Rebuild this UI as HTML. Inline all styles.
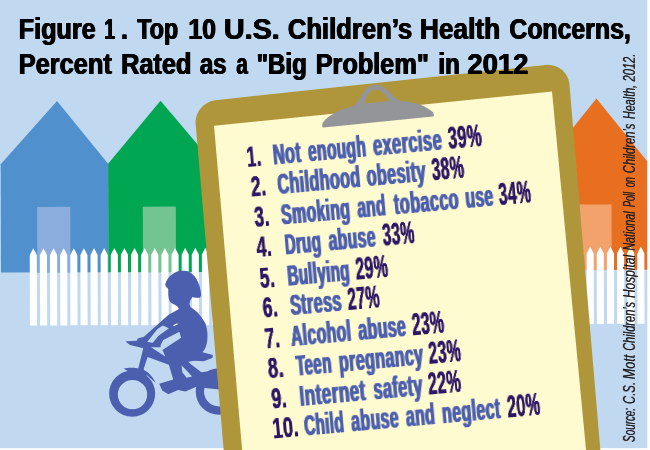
<!DOCTYPE html>
<html lang="en"><head><meta charset="utf-8"><title>Figure 1. Top 10 U.S. Children's Health Concerns</title>
<style>html,body{margin:0;padding:0;background:#fff;}svg{display:block;}text{font-family:"Liberation Sans",sans-serif;}</style></head><body>
<svg width="650" height="450" viewBox="0 0 650 450">
<defs><filter id="fb" x="-5%" y="-30%" width="110%" height="160%"><feOffset in="SourceGraphic" dx="0.5" result="a"/><feOffset in="SourceGraphic" dx="-0.5" result="b"/><feMerge><feMergeNode in="a"/><feMergeNode in="b"/><feMergeNode in="SourceGraphic"/></feMerge></filter><filter id="fbn" x="-5%" y="-30%" width="110%" height="160%"><feOffset in="SourceGraphic" dx="0.35" result="a"/><feOffset in="SourceGraphic" dx="-0.35" result="b"/><feMerge><feMergeNode in="a"/><feMergeNode in="b"/><feMergeNode in="SourceGraphic"/></feMerge></filter><filter id="fb2" x="-5%" y="-30%" width="110%" height="160%"><feOffset in="SourceGraphic" dx="0.5" result="a"/><feOffset in="SourceGraphic" dx="-0.5" result="b"/><feMerge><feMergeNode in="a"/><feMergeNode in="b"/><feMergeNode in="SourceGraphic"/></feMerge></filter><filter id="fb3" x="-2%" y="-30%" width="104%" height="160%"><feMerge><feMergeNode in="SourceGraphic"/><feMergeNode in="SourceGraphic"/></feMerge></filter></defs>
<rect width="650" height="450" fill="#fff"/>
<rect x="0" y="0" width="647.3" height="448.2" fill="#c0d9f1"/>
<clipPath id="cr"><rect x="0" y="0" width="647.3" height="448"/></clipPath>
<g clip-path="url(#cr)"><g transform="rotate(-0.16 60 272)">
<polygon points="1.0,272.4 1.0,164.0 57.5,101.0 108.4,164.0 108.4,272.4" fill="#4f90cd"/>
<rect x="37.3" y="206.9" width="33.2" height="65.5" fill="#8badde"/>
<polygon points="108.4,272.4 108.4,164.0 161,101.0 214,164.0 214,272.4" fill="#00a651"/>
<rect x="143" y="206.9" width="33.0" height="65.5" fill="#72c591"/>
<polygon points="546.0,271.5 546.0,163.1 596.9,100.1 647.7,163.1 647.7,271.5" fill="#e96f20"/>
<rect x="579.3" y="206.0" width="32.4" height="65.5" fill="#f4a26b"/>
<path d="M29.80,325.4V255L33.35,248.2L36.90,255V325.4ZM39.92,325.4V255L43.47,248.2L47.02,255V325.4ZM50.05,325.4V255L53.60,248.2L57.15,255V325.4ZM60.17,325.4V255L63.72,248.2L67.27,255V325.4ZM70.30,325.4V255L73.85,248.2L77.40,255V325.4ZM80.42,325.4V255L83.97,248.2L87.52,255V325.4ZM90.55,325.4V255L94.10,248.2L97.65,255V325.4ZM100.67,325.4V255L104.22,248.2L107.77,255V325.4ZM110.80,325.4V255L114.35,248.2L117.90,255V325.4ZM120.92,325.4V255L124.47,248.2L128.03,255V325.4ZM131.05,325.4V255L134.60,248.2L138.15,255V325.4ZM141.18,325.4V255L144.73,248.2L148.28,255V325.4ZM151.30,325.4V255L154.85,248.2L158.40,255V325.4ZM161.43,325.4V255L164.98,248.2L168.53,255V325.4ZM171.55,325.4V255L175.10,248.2L178.65,255V325.4ZM181.68,325.4V255L185.23,248.2L188.78,255V325.4ZM191.80,325.4V255L195.35,248.2L198.90,255V325.4ZM201.93,325.4V255L205.48,248.2L209.03,255V325.4ZM212.05,325.4V255L215.60,248.2L219.15,255V325.4ZM222.18,325.4V255L225.73,248.2L229.28,255V325.4ZM232.30,325.4V255L235.85,248.2L239.40,255V325.4ZM242.43,325.4V255L245.98,248.2L249.53,255V325.4ZM252.55,325.4V255L256.10,248.2L259.65,255V325.4ZM262.68,325.4V255L266.23,248.2L269.78,255V325.4ZM272.80,325.4V255L276.35,248.2L279.90,255V325.4ZM282.93,325.4V255L286.48,248.2L290.03,255V325.4ZM293.05,325.4V255L296.60,248.2L300.15,255V325.4ZM303.18,325.4V255L306.73,248.2L310.28,255V325.4ZM313.30,325.4V255L316.85,248.2L320.40,255V325.4ZM323.43,325.4V255L326.98,248.2L330.53,255V325.4ZM333.55,325.4V255L337.10,248.2L340.65,255V325.4ZM343.68,325.4V255L347.23,248.2L350.78,255V325.4ZM353.80,325.4V255L357.35,248.2L360.90,255V325.4ZM363.93,325.4V255L367.48,248.2L371.03,255V325.4ZM374.05,325.4V255L377.60,248.2L381.15,255V325.4ZM384.18,325.4V255L387.73,248.2L391.28,255V325.4ZM394.30,325.4V255L397.85,248.2L401.40,255V325.4ZM404.43,325.4V255L407.98,248.2L411.53,255V325.4ZM414.55,325.4V255L418.10,248.2L421.65,255V325.4ZM424.68,325.4V255L428.23,248.2L431.78,255V325.4ZM434.80,325.4V255L438.35,248.2L441.90,255V325.4ZM444.93,325.4V255L448.48,248.2L452.03,255V325.4ZM455.05,325.4V255L458.60,248.2L462.15,255V325.4ZM465.18,325.4V255L468.73,248.2L472.28,255V325.4ZM475.30,325.4V255L478.85,248.2L482.40,255V325.4ZM485.43,325.4V255L488.98,248.2L492.53,255V325.4ZM495.55,325.4V255L499.10,248.2L502.65,255V325.4ZM505.68,325.4V255L509.23,248.2L512.77,255V325.4ZM515.80,325.4V255L519.35,248.2L522.90,255V325.4ZM525.92,325.4V255L529.47,248.2L533.02,255V325.4ZM536.05,325.4V255L539.60,248.2L543.15,255V325.4ZM546.17,325.4V255L549.72,248.2L553.27,255V325.4ZM556.30,325.4V255L559.85,248.2L563.40,255V325.4ZM566.42,325.4V255L569.97,248.2L573.52,255V325.4ZM576.55,325.4V255L580.10,248.2L583.65,255V325.4ZM586.67,325.4V255L590.22,248.2L593.77,255V325.4ZM596.80,325.4V255L600.35,248.2L603.90,255V325.4ZM606.92,325.4V255L610.47,248.2L614.02,255V325.4ZM617.05,325.4V255L620.60,248.2L624.15,255V325.4ZM627.17,325.4V255L630.72,248.2L634.27,255V325.4ZM637.30,325.4V255L640.85,248.2L644.40,255V325.4Z" fill="#fff"/>
</g></g>
<g fill="#4b5fae" stroke="none">
<path fill-rule="evenodd" d="M109.1,393.6a23.05,23.05 0 1,0 46.1,0a23.05,23.05 0 1,0 -46.1,0Z M117.8,394.6a14.7,14.7 0 1,0 29.4,0a14.7,14.7 0 1,0 -29.4,0Z"/>
<path fill-rule="evenodd" d="M195.7,391.5a23.3,23.3 0 1,0 46.6,0a23.3,23.3 0 1,0 -46.6,0Z M204,391.5a15,15 0 1,0 30,0a15,15 0 1,0 -30,0Z"/>
<path d="M123.7,368.7 C128,367.3 136,367.2 142.5,369.3 C148,371.6 152.5,376.3 155.7,382.8 L151.5,379.5 L140,374 L128.5,371.5 Z"/>
<path d="M146.6,375.3 L152.4,380.6" stroke="#c0d9f1" stroke-width="0.9" fill="none"/>
<path d="M165.2,284.8 C165.6,283 166,282 166.7,280.6 C167.8,278.6 169,277 170.6,275.6 C172.2,274.2 174,272.8 176.1,271.9 C178.3,271 180.5,270.8 182.8,270.8 C185,270.8 187.4,271 189.4,271.9 C191.4,273 193,274.4 194.4,276.1 C196,278 197.3,280.3 198.3,282.8 C199.4,285.4 200.2,288 200.6,290.6 C200.9,292.3 201.2,294 201.1,295.6 L200,297.8 L196.1,297.8 L192.2,297.2 L190.3,300.6 L189.4,303.9 L190.6,307.2 C196,310 201.2,315.7 205.6,323.7 C207.6,330 207.8,336 207.3,340.2 C206.8,344 206,347 204.5,349.6 L202.5,352.3 L213,355 L212.3,358.1 L203.7,361.2 L194.4,360.8 L188.5,361.8 L190.3,363.7 L201.3,372.2 L216.6,370.4 L224,370 L224,390 L195.8,386.9 L185.4,391.5 L178.1,389.9 L168.3,394.2 L162.2,390.5 L159.2,383.8 L173.2,379.5 L168.9,364.8 L147.6,357 L143.9,368.3 L143.5,371.8 L137.3,370.8 L138.3,368.3 L143.3,348.3 L130,344.9 L126.1,342 L126.1,341.2 L136.7,340.8 L137.8,338.4 L143.9,336.7 L158.5,323.7 L167.4,315.7 C170,313.3 175,311.3 178.9,308.9 L177.8,306.7 L174.4,304.4 C172.5,303.6 171.2,303 170.6,302.2 C169.6,301 169.2,300 168.9,298.9 L168.3,295 L168.3,288.9 L166.1,286.7 Z"/>
</g>
<g fill="#c0d9f1">
<polygon points="147.2,342 157.2,329.2 162.8,325.6 168.9,328.3 158.3,336.1 152.8,342.8"/>
<polygon points="163.3,340 179.4,331.7 181.1,337.8 162.4,349.9 165.3,356.5 151,347.2 160.4,347.2 160.9,344.4"/>
<polygon points="181.5,365.5 182.4,372.2 186.6,377.7 192.1,376.5 185.4,369.2"/>
</g>
<polygon points="173.1,325.2 177.2,323.3 177.8,324.4 173.9,326.1" fill="#fff"/>
<clipPath id="cb"><rect x="0" y="0" width="650" height="450"/></clipPath>
<g clip-path="url(#cb)">
<path d="M195.69,124.42C194.64,112.31 203.59,101.45 215.68,100.16L545.72,64.94C557.81,63.65 568.43,72.41 569.45,84.52L602.03,470.00L225.41,470.00Z" fill="#b0963b"/>
<path d="M214.00,125.80L552.00,91.50L587.96,470.00L243.88,470.00Z" fill="#fffbd1"/>
<g transform="translate(322.3,127.3) rotate(-5.74)" fill="#939598">
<path d="M1.2,0.3 L111,0.3 Q112.6,0.3 112.3,-1.5 L111.5,-4 C105,-11 92,-18 78,-18 L36,-18 C22,-18 7,-11 1,-4.8 L0,-1.5 Q-0.4,0.3 1.2,0.3Z"/>
<path fill-rule="evenodd" d="M30,-16 C40,-20 44,-37 56,-37 C68,-37 72,-22 84,-16 Z M44.5,-19.5 C47,-26 50,-32 56.5,-32 C63,-32 66,-26 69,-19.5 Z"/>
</g>
</g>
<text y="39.3" font-weight="bold" font-size="29.6" fill="#000" filter="url(#fb2)"><tspan id="t0_0" x="18.27" textLength="77.07" lengthAdjust="spacingAndGlyphs">Figure</tspan> <tspan id="t0_1" x="103.98" textLength="10.53" lengthAdjust="spacingAndGlyphs">1</tspan><tspan id="t0_2" x="120.77" textLength="6.72" lengthAdjust="spacingAndGlyphs">.</tspan> <tspan id="t0_3" x="136.79" textLength="41.07" lengthAdjust="spacingAndGlyphs">Top</tspan> <tspan id="t0_4" x="188.01" textLength="27.56" lengthAdjust="spacingAndGlyphs">10</tspan> <tspan id="t0_5" x="223.45" textLength="55.83" lengthAdjust="spacingAndGlyphs">U.S.</tspan> <tspan id="t0_6" x="287.41" textLength="124.42" lengthAdjust="spacingAndGlyphs">Children’s</tspan> <tspan id="t0_7" x="419.54" textLength="80.15" lengthAdjust="spacingAndGlyphs">Health</tspan> <tspan id="t0_8" x="509.03" textLength="121.35" lengthAdjust="spacingAndGlyphs">Concerns,</tspan></text>
<text y="73.7" font-weight="bold" font-size="29.6" fill="#000" filter="url(#fb2)"><tspan id="t1_0" x="18.28" textLength="93.08" lengthAdjust="spacingAndGlyphs">Percent</tspan> <tspan id="t1_1" x="120.67" textLength="70.43" lengthAdjust="spacingAndGlyphs">Rated</tspan> <tspan id="t1_2" x="199.46" textLength="26.65" lengthAdjust="spacingAndGlyphs">as</tspan> <tspan id="t1_3" x="235.88" textLength="11.33" lengthAdjust="spacingAndGlyphs">a</tspan> <tspan id="t1_4" x="256.14" textLength="50.32" lengthAdjust="spacingAndGlyphs">&quot;Big</tspan> <tspan id="t1_5" x="315.24" textLength="113.17" lengthAdjust="spacingAndGlyphs">Problem&quot;</tspan> <tspan id="t1_6" x="438.05" textLength="21.36" lengthAdjust="spacingAndGlyphs">in</tspan> <tspan id="t1_7" x="466.97" textLength="60.91" lengthAdjust="spacingAndGlyphs">2012</tspan></text>
<text transform="translate(247.42,166.99) rotate(-5.1)" font-weight="bold" font-size="29.5" letter-spacing="0.6" fill="#2b1464" filter="url(#fbn)"><tspan id="r0_0" x="0.00" textLength="14.86" lengthAdjust="spacingAndGlyphs">1.</tspan></text>
<text transform="translate(247.42,166.99) rotate(-5.1)" font-weight="bold" font-size="29.5" letter-spacing="0.6" fill="#4b5fae" filter="url(#fb)"><tspan id="r0_1" x="25.88" textLength="28.44" lengthAdjust="spacingAndGlyphs">Not</tspan> <tspan id="r0_2" x="61.29" textLength="58.24" lengthAdjust="spacingAndGlyphs">enough</tspan> <tspan id="r0_3" x="126.44" textLength="69.32" lengthAdjust="spacingAndGlyphs">exercise</tspan></text>
<text transform="translate(247.42,166.99) rotate(-5.1)" font-weight="bold" font-size="30.6" letter-spacing="0.6" fill="#2b1464" filter="url(#fbn)"><tspan id="r0_4" x="202.17" textLength="33.97" lengthAdjust="spacingAndGlyphs">39%</tspan></text>
<text transform="translate(251.78,196.57) rotate(-5.1)" font-weight="bold" font-size="29.5" letter-spacing="0.6" fill="#2b1464" filter="url(#fbn)"><tspan id="r1_0" x="0.00" textLength="15.38" lengthAdjust="spacingAndGlyphs">2.</tspan></text>
<text transform="translate(251.78,196.57) rotate(-5.1)" font-weight="bold" font-size="29.5" letter-spacing="0.6" fill="#4b5fae" filter="url(#fb)"><tspan id="r1_1" x="26.23" textLength="83.40" lengthAdjust="spacingAndGlyphs">Childhood</tspan> <tspan id="r1_2" x="115.68" textLength="59.42" lengthAdjust="spacingAndGlyphs">obesity</tspan></text>
<text transform="translate(251.78,196.57) rotate(-5.1)" font-weight="bold" font-size="30.6" letter-spacing="0.6" fill="#2b1464" filter="url(#fbn)"><tspan id="r1_3" x="181.53" textLength="32.57" lengthAdjust="spacingAndGlyphs">38%</tspan></text>
<text transform="translate(255.20,226.98) rotate(-5.1)" font-weight="bold" font-size="29.5" letter-spacing="0.6" fill="#2b1464" filter="url(#fbn)"><tspan id="r2_0" x="0.00" textLength="15.23" lengthAdjust="spacingAndGlyphs">3.</tspan></text>
<text transform="translate(255.20,226.98) rotate(-5.1)" font-weight="bold" font-size="29.5" letter-spacing="0.6" fill="#4b5fae" filter="url(#fb)"><tspan id="r2_1" x="26.60" textLength="69.14" lengthAdjust="spacingAndGlyphs">Smoking</tspan> <tspan id="r2_2" x="102.95" textLength="28.49" lengthAdjust="spacingAndGlyphs">and</tspan> <tspan id="r2_3" x="139.78" textLength="65.18" lengthAdjust="spacingAndGlyphs">tobacco</tspan> <tspan id="r2_4" x="211.46" textLength="28.16" lengthAdjust="spacingAndGlyphs">use</tspan></text>
<text transform="translate(255.20,226.98) rotate(-5.1)" font-weight="bold" font-size="30.6" letter-spacing="0.6" fill="#2b1464" filter="url(#fbn)"><tspan id="r2_5" x="245.29" textLength="32.66" lengthAdjust="spacingAndGlyphs">34%</tspan></text>
<text transform="translate(257.33,257.06) rotate(-5.1)" font-weight="bold" font-size="29.5" letter-spacing="0.6" fill="#2b1464" filter="url(#fbn)"><tspan id="r3_0" x="0.00" textLength="15.64" lengthAdjust="spacingAndGlyphs">4.</tspan></text>
<text transform="translate(257.33,257.06) rotate(-5.1)" font-weight="bold" font-size="29.5" letter-spacing="0.6" fill="#4b5fae" filter="url(#fb)"><tspan id="r3_1" x="27.91" textLength="36.54" lengthAdjust="spacingAndGlyphs">Drug</tspan> <tspan id="r3_2" x="71.91" textLength="47.44" lengthAdjust="spacingAndGlyphs">abuse</tspan></text>
<text transform="translate(257.33,257.06) rotate(-5.1)" font-weight="bold" font-size="30.6" letter-spacing="0.6" fill="#2b1464" filter="url(#fbn)"><tspan id="r3_3" x="126.47" textLength="32.47" lengthAdjust="spacingAndGlyphs">33%</tspan></text>
<text transform="translate(260.56,288.24) rotate(-5.1)" font-weight="bold" font-size="29.5" letter-spacing="0.6" fill="#2b1464" filter="url(#fbn)"><tspan id="r4_0" x="0.00" textLength="15.40" lengthAdjust="spacingAndGlyphs">5.</tspan></text>
<text transform="translate(260.56,288.24) rotate(-5.1)" font-weight="bold" font-size="29.5" letter-spacing="0.6" fill="#4b5fae" filter="url(#fb)"><tspan id="r4_1" x="27.40" textLength="62.59" lengthAdjust="spacingAndGlyphs">Bullying</tspan></text>
<text transform="translate(260.56,288.24) rotate(-5.1)" font-weight="bold" font-size="30.6" letter-spacing="0.6" fill="#2b1464" filter="url(#fbn)"><tspan id="r4_2" x="96.21" textLength="32.77" lengthAdjust="spacingAndGlyphs">29%</tspan></text>
<text transform="translate(263.53,317.66) rotate(-5.1)" font-weight="bold" font-size="29.5" letter-spacing="0.6" fill="#2b1464" filter="url(#fbn)"><tspan id="r5_0" x="0.00" textLength="15.45" lengthAdjust="spacingAndGlyphs">6.</tspan></text>
<text transform="translate(263.53,317.66) rotate(-5.1)" font-weight="bold" font-size="29.5" letter-spacing="0.6" fill="#4b5fae" filter="url(#fb)"><tspan id="r5_1" x="27.17" textLength="51.78" lengthAdjust="spacingAndGlyphs">Stress</tspan></text>
<text transform="translate(263.53,317.66) rotate(-5.1)" font-weight="bold" font-size="30.6" letter-spacing="0.6" fill="#2b1464" filter="url(#fbn)"><tspan id="r5_2" x="85.20" textLength="32.17" lengthAdjust="spacingAndGlyphs">27%</tspan></text>
<text transform="translate(265.75,348.50) rotate(-5.1)" font-weight="bold" font-size="29.5" letter-spacing="0.6" fill="#2b1464" filter="url(#fbn)"><tspan id="r6_0" x="0.00" textLength="15.17" lengthAdjust="spacingAndGlyphs">7.</tspan></text>
<text transform="translate(265.75,348.50) rotate(-5.1)" font-weight="bold" font-size="29.5" letter-spacing="0.6" fill="#4b5fae" filter="url(#fb)"><tspan id="r6_1" x="25.75" textLength="60.38" lengthAdjust="spacingAndGlyphs">Alcohol</tspan> <tspan id="r6_2" x="93.17" textLength="48.25" lengthAdjust="spacingAndGlyphs">abuse</tspan></text>
<text transform="translate(265.75,348.50) rotate(-5.1)" font-weight="bold" font-size="30.6" letter-spacing="0.6" fill="#2b1464" filter="url(#fbn)"><tspan id="r6_3" x="147.63" textLength="32.37" lengthAdjust="spacingAndGlyphs">23%</tspan></text>
<text transform="translate(268.78,378.27) rotate(-5.1)" font-weight="bold" font-size="29.5" letter-spacing="0.6" fill="#2b1464" filter="url(#fbn)"><tspan id="r7_0" x="0.00" textLength="15.88" lengthAdjust="spacingAndGlyphs">8.</tspan></text>
<text transform="translate(268.78,378.27) rotate(-5.1)" font-weight="bold" font-size="29.5" letter-spacing="0.6" fill="#4b5fae" filter="url(#fb)"><tspan id="r7_1" x="27.89" textLength="35.60" lengthAdjust="spacingAndGlyphs">Teen</tspan> <tspan id="r7_2" x="70.86" textLength="84.68" lengthAdjust="spacingAndGlyphs">pregnancy</tspan></text>
<text transform="translate(268.78,378.27) rotate(-5.1)" font-weight="bold" font-size="30.6" letter-spacing="0.6" fill="#2b1464" filter="url(#fbn)"><tspan id="r7_3" x="161.36" textLength="32.66" lengthAdjust="spacingAndGlyphs">23%</tspan></text>
<text transform="translate(272.30,408.57) rotate(-5.1)" font-weight="bold" font-size="29.5" letter-spacing="0.6" fill="#2b1464" filter="url(#fbn)"><tspan id="r8_0" x="0.00" textLength="15.66" lengthAdjust="spacingAndGlyphs">9.</tspan></text>
<text transform="translate(272.30,408.57) rotate(-5.1)" font-weight="bold" font-size="29.5" letter-spacing="0.6" fill="#4b5fae" filter="url(#fb)"><tspan id="r8_1" x="27.85" textLength="66.32" lengthAdjust="spacingAndGlyphs">Internet</tspan> <tspan id="r8_2" x="102.06" textLength="49.32" lengthAdjust="spacingAndGlyphs">safety</tspan></text>
<text transform="translate(272.30,408.57) rotate(-5.1)" font-weight="bold" font-size="30.6" letter-spacing="0.6" fill="#2b1464" filter="url(#fbn)"><tspan id="r8_3" x="157.32" textLength="33.07" lengthAdjust="spacingAndGlyphs">22%</tspan></text>
<text transform="translate(273.32,438.49) rotate(-5.1)" font-weight="bold" font-size="29.5" letter-spacing="0.6" fill="#2b1464" filter="url(#fbn)"><tspan id="r9_0" x="0.00" textLength="26.29" lengthAdjust="spacingAndGlyphs">10.</tspan></text>
<text transform="translate(273.32,438.49) rotate(-5.1)" font-weight="bold" font-size="29.5" letter-spacing="0.6" fill="#4b5fae" filter="url(#fb)"><tspan id="r9_1" x="31.42" textLength="40.01" lengthAdjust="spacingAndGlyphs">Child</tspan> <tspan id="r9_2" x="78.60" textLength="47.81" lengthAdjust="spacingAndGlyphs">abuse</tspan> <tspan id="r9_3" x="133.56" textLength="29.05" lengthAdjust="spacingAndGlyphs">and</tspan> <tspan id="r9_4" x="169.79" textLength="58.72" lengthAdjust="spacingAndGlyphs">neglect</tspan></text>
<text transform="translate(273.32,438.49) rotate(-5.1)" font-weight="bold" font-size="30.6" letter-spacing="0.6" fill="#2b1464" filter="url(#fbn)"><tspan id="r9_5" x="235.81" textLength="33.17" lengthAdjust="spacingAndGlyphs">20%</tspan></text>
<text transform="translate(634.9,445.0) rotate(-90)" font-style="italic" font-size="16" fill="#231f20" filter="url(#fb3)"><tspan id="s_0" x="3.04" textLength="34.08" lengthAdjust="spacingAndGlyphs">Source:</tspan> <tspan id="s_1" x="41.08" textLength="21.94" lengthAdjust="spacingAndGlyphs">C.S.</tspan> <tspan id="s_2" x="65.67" textLength="24.60" lengthAdjust="spacingAndGlyphs">Mott</tspan> <tspan id="s_3" x="94.14" textLength="48.95" lengthAdjust="spacingAndGlyphs">Children’s</tspan> <tspan id="s_4" x="146.90" textLength="43.29" lengthAdjust="spacingAndGlyphs">Hospital</tspan> <tspan id="s_5" x="194.40" textLength="39.19" lengthAdjust="spacingAndGlyphs">National</tspan> <tspan id="s_6" x="238.09" textLength="15.03" lengthAdjust="spacingAndGlyphs">Poll</tspan> <tspan id="s_7" x="257.73" textLength="10.15" lengthAdjust="spacingAndGlyphs">on</tspan> <tspan id="s_8" x="271.83" textLength="49.55" lengthAdjust="spacingAndGlyphs">Children’s</tspan> <tspan id="s_9" x="326.07" textLength="34.03" lengthAdjust="spacingAndGlyphs">Health,</tspan> <tspan id="s_10" x="363.45" textLength="28.00" lengthAdjust="spacingAndGlyphs">2012.</tspan></text>
</svg></body></html>
